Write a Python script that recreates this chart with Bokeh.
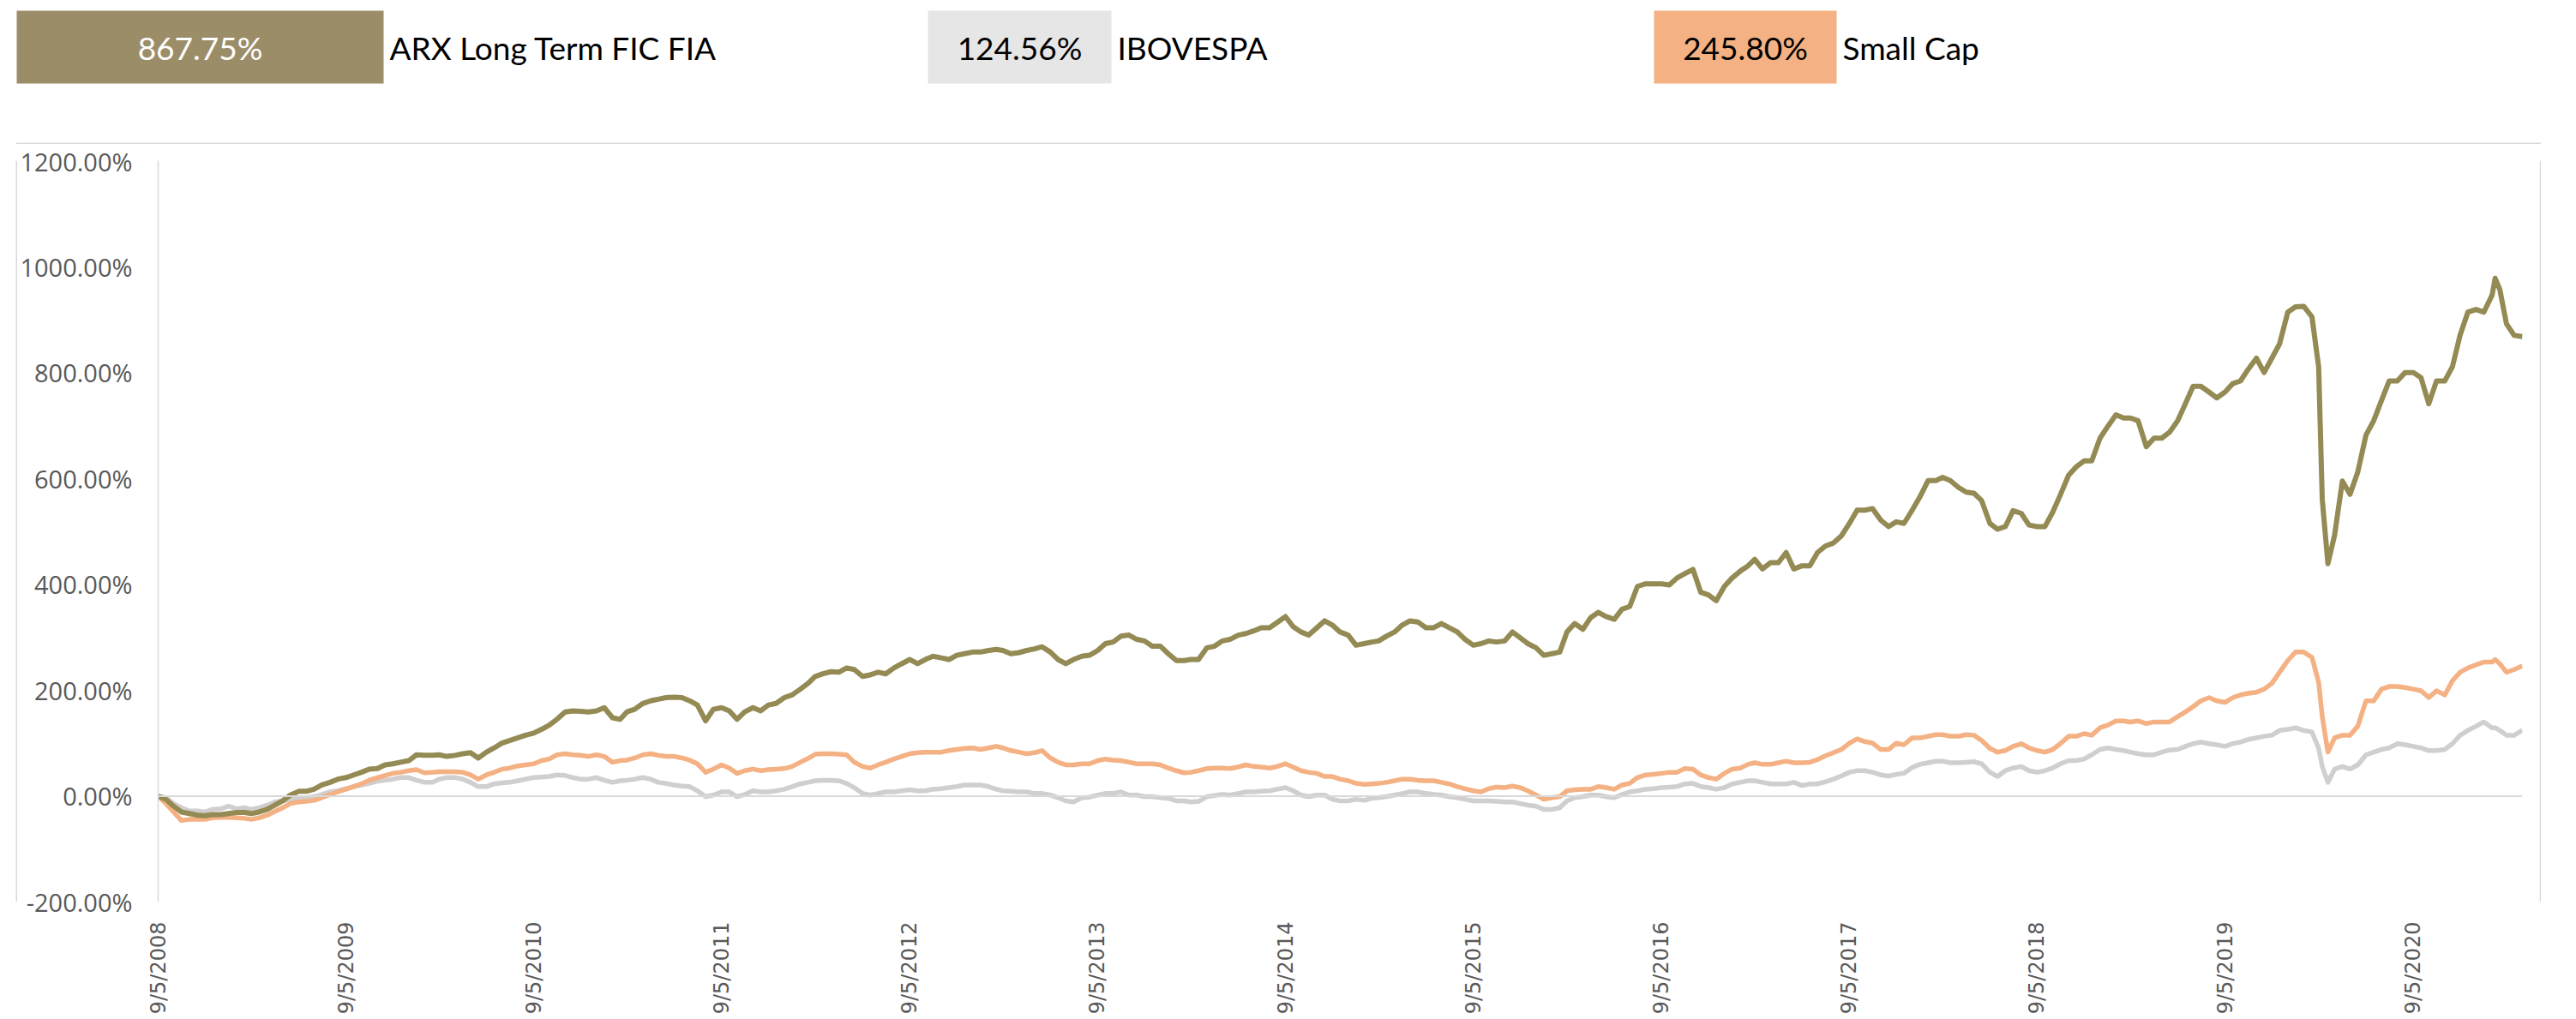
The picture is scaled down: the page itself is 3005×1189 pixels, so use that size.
import math
import pandas as pd
from bokeh.plotting import figure
from bokeh.layouts import column, row
from bokeh.models import ColumnDataSource, Range1d, FixedTicker, PrintfTickFormatter, Span
from bokeh.core.properties import value
from bokeh.embed import file_html
from bokeh.resources import INLINE

# ---------------- data ----------------
series_names = ["ARX Long Term FIC FIA", "IBOVESPA", "Small Cap"]
final_returns = [867.75, 124.56, 245.80]

# monthly observations, 5th of each month, Sep 2008 .. Apr 2021 (152 points)
month_dates = list(pd.date_range("2008-09-05", periods=152, freq=pd.DateOffset(months=1)))
# mid-month observations, 20th of each month, Sep 2008 .. Mar 2021 (151 points)
mid_dates = list(pd.date_range("2008-09-20", periods=151, freq=pd.DateOffset(months=1)))

arx_monthly = [
    0, -19, -33, -37, -35, -31, -33, -25, -9, 9, 13, 26,
    35, 45, 52, 61, 67, 77, 78, 77, 82, 83, 100, 110,
    119, 134, 159, 160, 161, 148, 159, 175, 183, 187, 180, 142,
    167, 145, 167, 172, 186, 202, 226, 235, 242, 226, 234, 242,
    258, 258, 261, 266, 272, 275, 275, 271, 278, 272, 250, 264,
    275, 291, 304, 293, 283, 256, 258, 280, 293, 304, 312, 318,
    339, 310, 318, 323, 304, 288, 293, 310, 331, 318, 326, 310,
    285, 293, 293, 299, 280, 269, 310, 315, 347, 334, 358, 401,
    401, 412, 428, 380, 396, 425, 447, 441, 460, 435, 460, 478,
    515, 540, 521, 518, 540, 596, 602, 583, 572, 515, 509, 534,
    509, 536, 606, 633, 676, 720, 714, 660, 676, 709, 774, 763,
    763, 784, 827, 827, 914, 925, 810, 493, 570, 682, 747, 784,
    800, 741, 784, 871, 919, 946, 892, 867.75,
]
arx_mid = [
    -6, -30, -36, -35, -33, -31, -30, -17, 2, 9, 21, 32,
    40, 51, 59, 64, 78, 77, 75, 80, 72, 91, 105, 115,
    126, 145, 161, 159, 167, 145, 164, 180, 186, 186, 172, 164,
    161, 159, 161, 175, 191, 213, 231, 234, 239, 229, 231, 250,
    250, 264, 258, 269, 272, 277, 269, 275, 282, 258, 258, 266,
    288, 302, 296, 283, 269, 256, 258, 283, 296, 307, 318, 328,
    320, 304, 331, 310, 285, 291, 302, 323, 329, 318, 318, 296,
    288, 291, 310, 288, 266, 272, 326, 337, 339, 353, 396, 401,
    399, 420, 385, 369, 412, 435, 429, 441, 429, 435, 472, 491,
    540, 543, 509, 515, 565, 596, 596, 574, 558, 504, 539, 512,
    509, 569, 622, 633, 698, 714, 709, 676, 687, 741, 774, 752,
    779, 806, 800, 854, 924, None, None, 595, 612, 709, 784, 800,
    790, 784, 811, 914, 914, 957, 870,
]
ibov_monthly = [
    0, -14, -28, -30, -24, -24, -25, -17, -9, -4, -1, 8,
    14, 21, 28, 32, 35, 26, 32, 35, 26, 18, 25, 29,
    35, 37, 39, 32, 35, 26, 30, 35, 26, 21, 18, -1,
    8, -1, 10, 8, 13, 23, 29, 30, 24, 5, 5, 8,
    12, 10, 14, 18, 21, 18, 10, 8, 5, 2, -9, -3,
    2, 5, 2, -1, -3, -9, -11, -1, 3, 5, 8, 10,
    16, 2, 2, -6, -9, -8, -3, 2, 8, 5, 2, -3,
    -9, -9, -11, -14, -19, -25, -9, -1, 2, -3, 8, 13,
    16, 18, 24, 16, 16, 26, 29, 23, 23, 20, 23, 32,
    45, 48, 40, 41, 54, 63, 66, 63, 65, 45, 48, 56,
    45, 53, 67, 70, 88, 88, 83, 78, 83, 88, 99, 99,
    94, 102, 110, 115, 126, 124, 90, 51, 51, 78, 88, 99,
    94, 86, 88, 115, 132, 129, 115, 124.56,
]
ibov_mid = [
    -3, -22, -28, -25, -19, -22, -22, -11, -6, -3, 3, 10,
    18, 24, 30, 35, 30, 26, 35, 32, 18, 23, 26, 32,
    36, 40, 35, 32, 30, 29, 32, 32, 24, 19, 10, 2,
    8, 3, 8, 10, 18, 26, 30, 29, 16, 2, 8, 10,
    10, 13, 16, 21, 21, 13, 9, 8, 5, -3, -11, -2,
    5, 8, 2, -1, -4, -9, -10, 1, 2, 8, 9, 13,
    10, -1, 2, -9, -6, -4, -1, 5, 8, 3, -1, -6,
    -9, -10, -11, -17, -25, -22, -3, 2, -1, 3, 10, 14,
    17, 23, 18, 13, 23, 29, 26, 23, 26, 23, 27, 38,
    48, 45, 38, 43, 60, 66, 63, 64, 61, 37, 53, 48,
    48, 61, 67, 78, 91, 86, 80, 78, 87, 94, 102, 97,
    99, 107, 113, 124, 129, None, None, 56, 59, 83, 91, 97,
    91, 86, 99, 124, 140, 124, 115,
]
small_monthly = [
    0, -30, -44, -44, -40, -41, -44, -36, -22, -11, -8, 3,
    13, 23, 35, 43, 48, 44, 46, 46, 40, 40, 51, 57,
    61, 70, 80, 77, 78, 64, 68, 78, 77, 75, 68, 45,
    59, 43, 51, 50, 52, 64, 79, 80, 78, 56, 59, 70,
    80, 83, 83, 88, 91, 91, 91, 83, 82, 72, 59, 61,
    67, 68, 64, 61, 59, 48, 45, 52, 53, 55, 56, 53,
    61, 48, 43, 37, 29, 22, 24, 29, 32, 29, 26, 18,
    10, 14, 16, 16, 2, -3, 10, 13, 18, 13, 24, 40,
    43, 45, 51, 35, 43, 53, 63, 60, 66, 63, 69, 82,
    100, 103, 88, 100, 110, 113, 116, 113, 115, 90, 86, 99,
    86, 88, 113, 118, 129, 142, 140, 137, 140, 150, 169, 186,
    177, 191, 196, 213, 256, 272, 215, 110, 115, 180, 202, 207,
    202, 186, 191, 234, 248, 253, 234, 245.80,
]
small_mid = [
    -14, -46, -44, -41, -40, -42, -41, -29, -14, -10, -3, 8,
    18, 30, 39, 45, 50, 45, 46, 45, 32, 45, 53, 59,
    67, 78, 78, 75, 75, 67, 72, 80, 75, 72, 61, 51,
    53, 48, 48, 51, 56, 71, 80, 79, 64, 53, 64, 75,
    82, 83, 86, 90, 88, 94, 86, 80, 86, 64, 59, 61,
    70, 67, 61, 61, 53, 44, 48, 53, 52, 59, 55, 56,
    55, 45, 37, 32, 24, 23, 26, 32, 30, 29, 23, 14,
    8, 17, 19, 10, -6, -1, 12, 13, 16, 21, 35, 41,
    45, 52, 40, 32, 51, 60, 60, 63, 63, 64, 76, 88,
    108, 100, 88, 97, 110, 116, 113, 116, 105, 83, 94, 91,
    83, 99, 113, 115, 134, 142, 142, 140, 140, 159, 180, 180,
    186, 194, 202, 234, 272, None, None, 115, 132, 180, 207, 205,
    199, 199, 218, 242, 253, 250, 239,
]

# extra daily detail around the March 2020 crash and the early-2021 peak
extra_dates = [pd.Timestamp(d) for d in ["2020-02-21", "2020-03-12", "2020-03-23", "2021-02-11"]]
arx_extra = [905, 560, 439, 978]
ibov_extra = [121, 56, 26, 129]
small_extra = [262, 150, 83, 258]

year_ticks = list(range(2008, 2021))

df = pd.DataFrame({
    "date": month_dates + mid_dates + extra_dates,
    "arx": arx_monthly + arx_mid + arx_extra,
    "ibov": ibov_monthly + ibov_mid + ibov_extra,
    "small": small_monthly + small_mid + small_extra,
}).dropna().sort_values("date").reset_index(drop=True)
source = ColumnDataSource(df)

# ---------------- styling ----------------
GOLD_LINE = "#948A54"
GOLD_BOX = "#9C8D69"
GRAY_LINE = "#D0CECE"
GRAY_BOX = "#E7E6E6"
ORANGE = "#F4B183"
AXIS_GRAY = "#D9D9D9"
LABEL_GRAY = "#595959"
LEGEND_FONT = "Lato"

TOTAL_W = 2964
LEG_H = 168
PAD_L = 20
MAIN_W = 2942
PAD_R = 2
MAIN_H = 1019


def blank(width, height, xr, yr):
    f = figure(width=width, height=height, x_range=xr, y_range=yr,
               output_backend="svg", toolbar_location=None,
               x_axis_location=None, y_axis_location=None,
               min_border=0, min_border_left=0, min_border_right=0,
               min_border_top=0, min_border_bottom=0)
    f.outline_line_color = None
    f.xgrid.visible = False
    f.ygrid.visible = False
    f.background_fill_color = "white"
    f.border_fill_color = "white"
    return f


# ---------------- legend strip (pixel coordinates, y downward) ----------------
leg = blank(TOTAL_W, LEG_H, Range1d(0, TOTAL_W), Range1d(LEG_H, 0))
box_left = [19, 1082, 1929]
box_right = [447, 1296, 2142]
box_fill = [GOLD_BOX, GRAY_BOX, ORANGE]
value_color = ["white", "black", "black"]
leg_src = ColumnDataSource(dict(
    left=box_left, right=box_right, top=[12] * 3, bottom=[97] * 3, fill=box_fill,
    cx=[(l + r) / 2 for l, r in zip(box_left, box_right)],
    nx=[r + 7 for r in box_right], ty=[55] * 3,
    val=[f"{v:.2f}%" for v in final_returns], vcol=value_color, name=series_names,
))
leg.quad(left="left", right="right", top="top", bottom="bottom", fill_color="fill",
         line_color=None, source=leg_src)
leg.text(x="cx", y="ty", text="val", text_color="vcol", text_align="center",
         text_baseline="middle", text_font=value(LEGEND_FONT), text_font_size=value("37px"),
         source=leg_src)
leg.text(x="nx", y="ty", text="name", text_color="black", text_align="left",
         text_baseline="middle", text_font=value(LEGEND_FONT), text_font_size=value("37px"),
         source=leg_src)
# top edge of the chart-area border
leg.quad(left=[18], right=[TOTAL_W], top=[LEG_H - 2], bottom=[LEG_H],
         fill_color=AXIS_GRAY, line_color=None)

# ---------------- side strips: left / right edges of the chart-area border ----------------
lbar = blank(PAD_L, MAIN_H, Range1d(0, PAD_L), Range1d(0, 1))
lbar.quad(left=[PAD_L - 2], right=[PAD_L], top=[1], bottom=[0], fill_color=AXIS_GRAY, line_color=None)
rbar = blank(PAD_R, MAIN_H, Range1d(0, PAD_R), Range1d(0, 1))
rbar.quad(left=[0], right=[PAD_R], top=[1], bottom=[0], fill_color=AXIS_GRAY, line_color=None)

# ---------------- main chart ----------------
p = figure(width=MAIN_W, height=MAIN_H, x_axis_type="datetime",
           x_range=Range1d(df["date"].min(), df["date"].max()),
           y_range=Range1d(-200, 1200),
           output_backend="svg", toolbar_location=None,
           min_border_left=164, min_border_right=20,
           min_border_top=19, min_border_bottom=MAIN_H - 884)
p.outline_line_color = None
p.background_fill_color = "white"
p.border_fill_color = "white"
p.xgrid.visible = False
p.ygrid.visible = False

# zero line (category axis crossing)
p.add_layout(Span(location=0, dimension="width", line_color=AXIS_GRAY, line_width=2))

# series: IBOVESPA, Small Cap, ARX (ARX on top)
p.line("date", "ibov", source=source, line_color=GRAY_LINE, line_width=5.5, line_join="round")
p.line("date", "small", source=source, line_color=ORANGE, line_width=5.5, line_join="round")
p.line("date", "arx", source=source, line_color=GOLD_LINE, line_width=6, line_join="round")

# y axis
yax = p.yaxis[0]
yax.ticker = FixedTicker(ticks=list(range(-200, 1201, 200)))
yax.formatter = PrintfTickFormatter(format="%.2f%%")
yax.axis_line_color = AXIS_GRAY
yax.axis_line_width = 1.5
yax.major_tick_line_color = None
yax.minor_tick_line_color = None
yax.major_tick_out = 0
yax.major_label_standoff = 30
yax.major_label_text_font = "Open Sans"
yax.major_label_text_font_size = "29px"
yax.major_label_text_color = LABEL_GRAY

# x axis
xax = p.xaxis[0]
tick_ms = [pd.Timestamp(f"{y}-09-05").value // 10**6 for y in year_ticks]
xax.ticker = FixedTicker(ticks=tick_ms)
xax.major_label_overrides = {t: f"9/5/{y}" for t, y in zip(tick_ms, year_ticks)}
xax.axis_line_color = None
xax.major_tick_line_color = None
xax.minor_tick_line_color = None
xax.major_tick_out = 0
xax.major_label_standoff = 23
xax.major_label_orientation = math.pi / 2
xax.major_label_text_font = "DejaVu Sans"
xax.major_label_text_font_size = "24px"
xax.major_label_text_color = LABEL_GRAY

layout = column(leg, row(lbar, p, rbar))
open("out.html", "w").write(file_html(layout, INLINE))
